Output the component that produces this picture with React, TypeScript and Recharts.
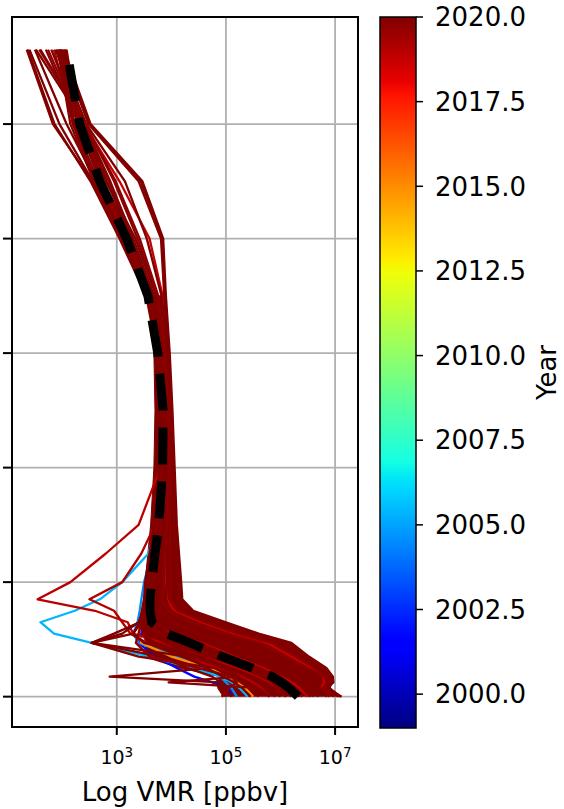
import { ComposedChart, Scatter, XAxis, YAxis, CartesianGrid, ReferenceArea } from "recharts";

const FONT = "DejaVu Sans, sans-serif";

// altitude levels [km] shared by every profile
const ALT = [0, 1.5, 2.5, 3.5, 5, 7, 9.4, 11, 13, 15, 17, 20, 25, 30, 40, 50, 60, 70, 80, 90, 100, 113];

// decimal year of each profile, in drawing order
const YEARS = [
  2001.8, 2004.5, 2005.4, 2015.0, 2018.6, 2018.7, 2018.9, 2019.1,
  2020.0, 2019.9, 2020.0, 2019.8, 2020.0, 2019.9, 2020.0, 2020.0, 2019.8, 2020.0, 2019.9,
  2020.0, 2020.0, 2019.7, 2020.0, 2019.9, 2020.0, 2019.8, 2020.0, 2019.9, 2020.0, 2019.9,
];

// log10 VMR [ppbv], one value per ALT level
const PROFILES = [
  [5.10, 5.05, 4.75, 4.42, 4.10, 3.70, 3.40, 3.45, 3.48, 3.52, 3.56, 3.62, 3.68, 3.76, 3.84, 3.86, 3.80, 3.60, 3.18, 2.66, 2.22, 1.98],
  [5.20, 5.10, 5.00, 4.90, 4.60, 4.10, 3.40, 3.30, 3.38, 3.42, 3.45, 3.50, 3.64, 3.72, 3.80, 3.82, 3.76, 3.56, 3.10, 2.60, 2.20, 1.95],
  [5.40, 5.25, 5.10, 4.90, 4.40, 3.60, 2.54, 1.85, 1.60, 2.23, 2.69, 3.10, 3.58, 3.72, 3.80, 3.82, 3.76, 3.56, 3.10, 2.60, 2.20, 1.95],
  [5.50, 5.35, 5.20, 5.00, 4.70, 4.00, 3.45, 3.40, 3.42, 3.46, 3.50, 3.54, 3.62, 3.70, 3.80, 3.82, 3.76, 3.56, 3.10, 2.60, 2.20, 1.95],
  [6.50, 6.35, 6.22, 6.05, 5.70, 5.15, 4.55, 4.00, 3.70, 3.62, 3.64, 3.58, 3.64, 3.72, 3.80, 3.82, 3.76, 3.56, 3.10, 2.60, 2.20, 1.95],
  [6.90, 6.75, 6.80, 6.78, 6.55, 6.20, 5.75, 5.15, 4.55, 4.05, 3.92, 3.90, 3.90, 3.92, 3.94, 3.93, 3.88, 3.84, 3.60, 3.05, 2.40, 1.95],
  [6.10, 5.95, 5.80, 5.60, 5.20, 4.55, 3.85, 3.30, 3.20, 2.60, 1.55, 2.15, 2.80, 3.40, 3.80, 3.84, 3.78, 3.60, 3.20, 2.70, 2.30, 2.02],
  [5.80, 5.65, 5.50, 5.30, 4.90, 4.20, 3.55, 3.25, 3.10, 2.95, 2.50, 3.10, 3.45, 3.70, 3.82, 3.84, 3.80, 3.60, 3.18, 2.64, 2.20, 1.85],
  [7.12, 6.85, 6.97, 6.96, 6.84, 6.52, 6.20, 5.60, 5.00, 4.40, 4.20, 4.18, 4.14, 4.10, 4.06, 4.02, 3.97, 3.90, 3.85, 3.47, 2.52, 2.03],
  [7.05, 6.86, 6.92, 6.93, 6.78, 6.45, 6.10, 5.50, 4.90, 4.32, 4.15, 4.12, 4.08, 4.05, 4.03, 4.00, 3.94, 3.87, 3.81, 3.40, 2.48, 1.98],
  [7.10, 6.90, 6.93, 6.90, 6.70, 6.36, 5.96, 5.35, 4.75, 4.20, 4.05, 4.04, 4.02, 4.00, 3.98, 3.96, 3.92, 3.82, 3.55, 3.15, 2.44, 1.90],
  [6.98, 6.82, 6.86, 6.84, 6.62, 6.28, 5.84, 5.22, 4.62, 4.12, 3.98, 3.98, 3.98, 3.97, 3.97, 3.95, 3.89, 3.76, 3.42, 2.98, 2.42, 1.60],
  [6.85, 6.72, 6.70, 6.62, 6.38, 6.00, 5.52, 4.95, 4.40, 3.98, 3.90, 3.92, 3.92, 3.94, 3.95, 3.94, 3.88, 3.72, 3.34, 2.80, 2.35, 1.80],
  [6.70, 6.55, 6.45, 6.30, 6.00, 5.55, 5.00, 4.50, 4.05, 3.80, 3.80, 3.84, 3.86, 3.90, 3.93, 3.92, 3.86, 3.68, 3.28, 2.74, 2.30, 2.08],
  [6.55, 6.40, 6.28, 6.10, 5.78, 5.30, 4.72, 4.25, 3.88, 3.70, 3.72, 3.76, 3.80, 3.86, 3.91, 3.91, 3.85, 3.66, 3.24, 2.72, 2.28, 2.06],
  [6.35, 6.18, 6.05, 5.88, 5.50, 4.95, 4.35, 3.95, 3.66, 3.60, 3.62, 3.66, 3.72, 3.80, 3.86, 3.87, 3.80, 3.62, 3.22, 2.70, 2.28, 2.06],
  [6.20, 6.05, 5.90, 5.72, 5.32, 4.75, 4.15, 3.80, 3.58, 3.55, 3.58, 3.62, 3.68, 3.76, 3.84, 3.86, 3.80, 3.60, 3.18, 2.66, 2.22, 1.98],
  [6.00, 5.85, 5.70, 5.50, 5.10, 4.50, 3.90, 3.60, 3.50, 3.50, 3.55, 3.58, 3.64, 3.72, 3.80, 3.82, 3.76, 3.56, 3.10, 2.60, 2.20, 1.95],
  [5.60, 5.45, 5.30, 5.10, 4.80, 3.40, 2.54, 3.30, 3.45, 3.50, 3.55, 3.55, 3.62, 3.70, 3.80, 3.83, 3.76, 3.56, 3.08, 2.55, 1.83, 1.35],
  [5.00, 4.95, 4.90, 4.75, 4.30, 3.80, 2.54, 2.95, 3.42, 3.48, 3.52, 3.56, 3.64, 3.72, 3.82, 3.84, 3.78, 3.58, 3.12, 2.56, 1.95, 1.40],
  [5.10, 5.00, 4.90, 2.87, 4.70, 4.20, 3.60, 3.50, 3.48, 3.50, 3.55, 3.60, 3.66, 3.74, 3.82, 3.84, 3.78, 3.58, 3.14, 2.62, 2.08, 1.50],
  [4.92, 5.05, 5.20, 5.10, 4.50, 3.60, 3.35, 3.40, 3.45, 3.50, 3.54, 3.58, 3.64, 3.72, 3.82, 3.85, 3.80, 3.62, 3.20, 2.76, 2.34, 1.74],
  [5.45, 5.30, 5.15, 4.95, 4.65, 4.30, 2.54, 3.10, 3.40, 3.48, 3.55, 3.62, 3.70, 3.78, 3.86, 3.88, 3.82, 3.64, 3.26, 2.82, 2.38, 1.88],
  [5.80, 5.60, 3.95, 5.25, 4.95, 4.40, 3.70, 3.48, 3.45, 3.48, 3.52, 3.56, 3.62, 3.70, 3.80, 3.84, 3.78, 3.58, 3.10, 2.58, 2.15, 1.92],
  [6.60, 6.48, 6.40, 6.25, 5.95, 5.45, 4.80, 4.10, 3.70, 3.62, 3.65, 3.70, 3.76, 3.84, 3.90, 3.90, 3.84, 3.68, 3.30, 2.88, 2.40, 1.52],
  [6.90, 6.78, 6.85, 6.80, 6.50, 6.10, 5.62, 4.95, 4.35, 3.92, 3.84, 3.86, 3.88, 3.92, 3.95, 3.94, 3.88, 3.74, 3.38, 2.95, 2.42, 1.58],
  [7.08, 6.88, 6.94, 6.95, 6.82, 6.48, 6.15, 5.55, 4.95, 4.36, 4.18, 4.16, 4.12, 4.08, 4.04, 4.00, 3.95, 3.88, 3.83, 3.44, 2.50, 2.00],
  [6.40, 6.25, 6.12, 5.95, 5.62, 5.10, 4.50, 4.05, 3.72, 3.64, 3.66, 3.70, 3.75, 3.82, 3.88, 3.89, 3.82, 3.64, 3.24, 2.74, 2.30, 1.70],
  [5.90, 5.75, 5.62, 5.42, 5.05, 4.55, 3.50, 3.30, 3.42, 3.46, 3.50, 3.52, 3.60, 3.68, 3.78, 3.82, 3.74, 3.54, 3.05, 2.52, 1.86, 1.37],
  [6.10, 5.96, 5.84, 5.66, 5.30, 4.80, 4.20, 3.75, 3.55, 3.52, 3.58, 3.64, 3.70, 3.78, 3.86, 3.88, 3.82, 3.64, 3.28, 2.86, 2.36, 1.95],
];

// mean profile (black dashed)
const MEAN = [6.32, 6.16, 6.02, 5.85, 5.48, 4.93, 4.34, 3.92, 3.64, 3.61, 3.61, 3.64, 3.70, 3.77, 3.84, 3.85, 3.75, 3.57, 3.18, 2.69, 2.32, 2.08];

// envelope of the dense bundle of recent profiles
const BAND_ALT = [0, 1.5, 2.5, 3.5, 5, 7, 9.4, 11, 13, 15, 17, 20, 30, 40, 50, 60, 70];
const BAND_LO = [4.95, 4.85, 4.85, 4.90, 4.15, 3.50, 3.55, 3.45, 3.45, 3.48, 3.50, 3.52, 3.62, 3.68, 3.70, 3.68, 3.58];
const BAND_HI = [7.08, 6.85, 6.94, 6.93, 6.80, 6.46, 6.12, 5.52, 4.92, 4.32, 4.15, 4.14, 4.06, 4.02, 3.98, 3.92, 3.84];

const X_TICKS = [3, 5, 7];
const Y_TICKS = [0, 20, 40, 60, 80, 100];
const YEAR_TICKS = [2000, 2002.5, 2005, 2007.5, 2010, 2012.5, 2015, 2017.5, 2020];
const YEAR_MIN = 1999;
const YEAR_MAX = 2020;

// matplotlib jet colormap
const JET_R = [[0, 0], [0.35, 0], [0.66, 1], [0.89, 1], [1, 0.5]];
const JET_G = [[0, 0], [0.125, 0], [0.375, 1], [0.64, 1], [0.91, 0], [1, 0]];
const JET_B = [[0, 0.5], [0.11, 1], [0.34, 1], [0.65, 0], [1, 0]];
const JET_STOPS = [0, 0.11, 0.125, 0.34, 0.35, 0.375, 0.64, 0.65, 0.66, 0.89, 0.91, 1];

const seg = (t: number, pts: number[][]) => {
  for (let i = 1; i < pts.length; i++) {
    if (t <= pts[i][0]) {
      const [x0, y0] = pts[i - 1];
      const [x1, y1] = pts[i];
      return y0 + ((t - x0) / (x1 - x0)) * (y1 - y0);
    }
  }
  return pts[pts.length - 1][1];
};

const jet = (t: number) => {
  const c = (v: number) => Math.round(Math.max(0, Math.min(1, v)) * 255);
  return `rgb(${c(seg(t, JET_R))},${c(seg(t, JET_G))},${c(seg(t, JET_B))})`;
};

const yearColor = (y: number) => jet((y - YEAR_MIN) / (YEAR_MAX - YEAR_MIN));

const toPoints = (vals: number[]) => ALT.map((alt, i) => ({ alt, v: vals[i] }));

const bandPoints = [
  ...BAND_ALT.map((alt, i) => ({ alt, v: BAND_HI[i] })),
  ...BAND_ALT.map((alt, i) => ({ alt, v: BAND_LO[i] })).reverse(),
];

const NoDot = () => null;
const NoTickLabel = () => <g />;

const PowTick = (props: any) => {
  const { x, y, payload } = props;
  return (
    <text x={x} y={y + 27} textAnchor="middle" fontFamily={FONT} fontSize={19} fill="#000">
      10
      <tspan dy={-7} fontSize={13.5}>
        {payload.value}
      </tspan>
    </text>
  );
};

const XLabel = (props: any) => {
  const vb = props.viewBox;
  return (
    <text x={vb.x + vb.width / 2} y={vb.y + 74} textAnchor="middle" fontFamily={FONT} fontSize={26} fill="#000">
      Log VMR [ppbv]
    </text>
  );
};

const YearLabel = (props: any) => {
  const vb = props.viewBox;
  const x = vb.x + 140;
  const y = vb.y + vb.height / 2;
  return (
    <text x={x} y={y} transform={`rotate(-90 ${x} ${y})`} textAnchor="middle" fontFamily={FONT} fontSize={26} fill="#000">
      Year
    </text>
  );
};

export default function App() {
  return (
    <div style={{ position: "absolute", left: 0, top: 0, width: 564, height: 809, background: "#fff" }}>
      <div style={{ position: "absolute", left: 0, top: 0 }}>
        <ComposedChart width={564} height={809} margin={{ top: 17, right: 206, bottom: 22, left: 0 }}>
          <CartesianGrid stroke="#b0b0b0" strokeWidth={1.8} />
          <XAxis
            type="number"
            dataKey="v"
            domain={[1.08, 7.42]}
            allowDataOverflow
            ticks={X_TICKS}
            interval={0}
            tick={<PowTick />}
            tickSize={8}
            tickLine={{ stroke: "#000", strokeWidth: 2 }}
            axisLine={false}
            height={60}
            label={{ content: XLabel }}
          />
          <YAxis
            type="number"
            dataKey="alt"
            domain={[-5.3, 118.7]}
            allowDataOverflow
            ticks={Y_TICKS}
            interval={0}
            tick={<NoTickLabel />}
            tickSize={9}
            tickLine={{ stroke: "#000", strokeWidth: 2 }}
            axisLine={false}
            width={12}
          />
          <Scatter
            data={bandPoints}
            shape={NoDot}
            line={{ fill: "#800000", stroke: "#800000", strokeWidth: 1 }}
            isAnimationActive={false}
          />
          {PROFILES.map((vals, i) => (
            <Scatter
              key={i}
              data={toPoints(vals)}
              shape={NoDot}
              line={{ stroke: yearColor(YEARS[i]), strokeWidth: 2.3, strokeLinejoin: "round" }}
              isAnimationActive={false}
            />
          ))}
          <Scatter
            data={toPoints(MEAN)}
            shape={NoDot}
            line={{ stroke: "#000", strokeWidth: 9, strokeDasharray: "37 17" }}
            isAnimationActive={false}
          />
          <ReferenceArea x1={1.08} x2={7.42} y1={-5.3} y2={118.7} fill="none" stroke="#000" strokeWidth={2} ifOverflow="visible" />
        </ComposedChart>
      </div>
      <div style={{ position: "absolute", left: 370, top: 0 }}>
        <ComposedChart width={194} height={809} margin={{ top: 17, right: 8, bottom: 81, left: 10 }}>
          <defs>
            <linearGradient id="jetBar" x1="0" y1="1" x2="0" y2="0">
              {JET_STOPS.map((t) => (
                <stop key={t} offset={t} stopColor={jet(t)} />
              ))}
            </linearGradient>
          </defs>
          <XAxis type="number" dataKey="x" domain={[0, 1]} allowDataOverflow hide />
          <YAxis
            type="number"
            dataKey="y"
            orientation="right"
            domain={[YEAR_MIN, YEAR_MAX]}
            allowDataOverflow
            ticks={YEAR_TICKS}
            interval={0}
            tickFormatter={(v: number) => v.toFixed(1)}
            width={140}
            tickSize={7}
            tickMargin={12}
            axisLine={false}
            tickLine={{ stroke: "#000", strokeWidth: 1.5 }}
            tick={{ fill: "#000", fontSize: 26, fontFamily: FONT }}
            label={{ content: YearLabel }}
          />
          <ReferenceArea
            x1={0}
            x2={1}
            y1={YEAR_MIN}
            y2={YEAR_MAX}
            fill="url(#jetBar)"
            fillOpacity={1}
            stroke="#000"
            strokeWidth={1.5}
            ifOverflow="visible"
          />
        </ComposedChart>
      </div>
    </div>
  );
}
